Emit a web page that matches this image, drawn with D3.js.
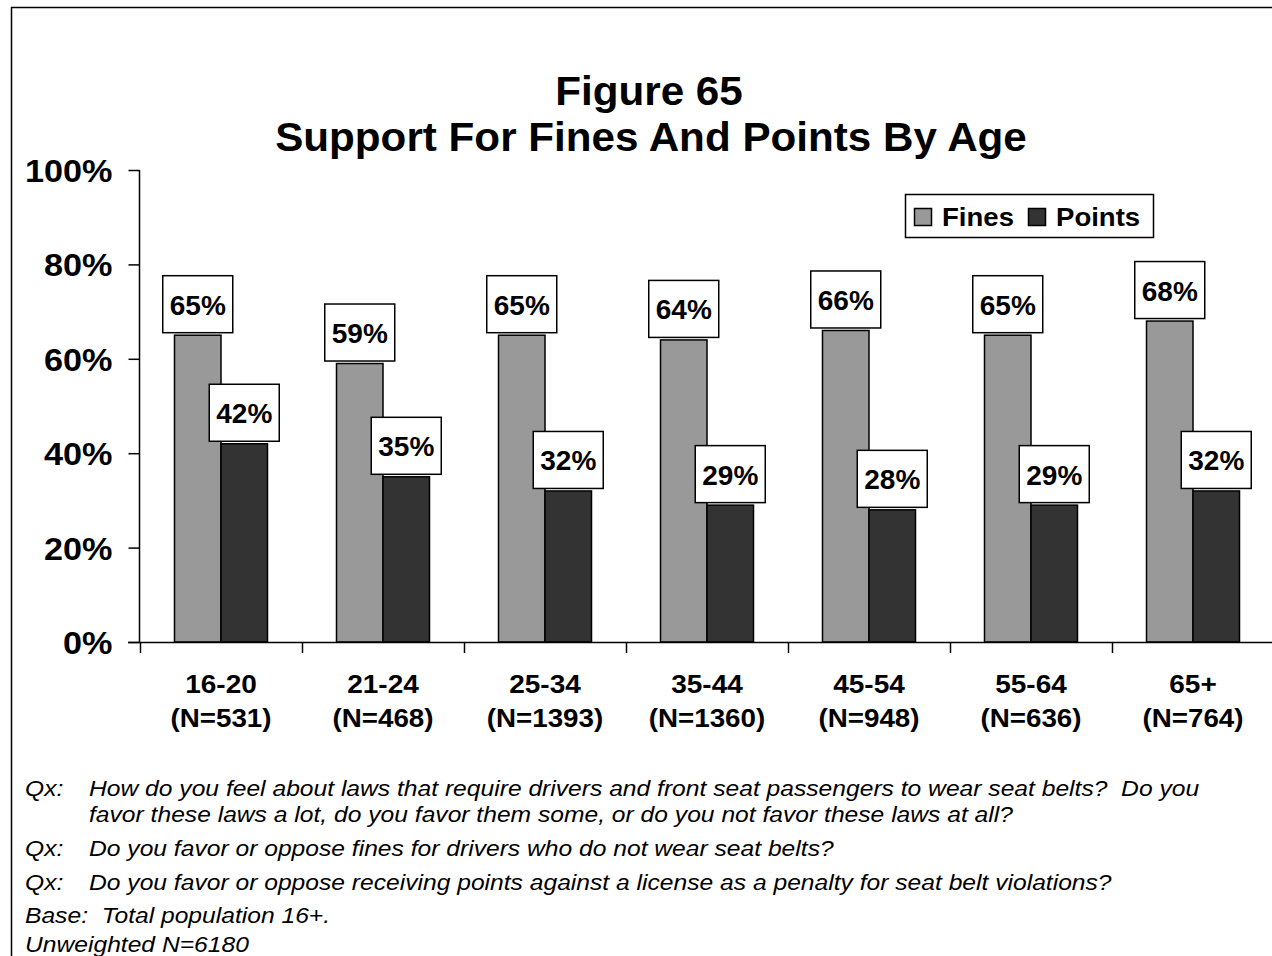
<!DOCTYPE html>
<html><head><meta charset="utf-8">
<script src="https://cdn.jsdelivr.net/npm/d3@7"></script>
<style>
html,body{margin:0;padding:0;background:#fff;}
svg{display:block;}
text{font-family:"Liberation Sans",Arial,Helvetica,sans-serif;white-space:pre;}
</style></head>
<body>
<svg id="chart" width="1272" height="956"></svg>
<script>
const categories = ["16-20","21-24","25-34","35-44","45-54","55-64","65+"];
const sampleSizes = ["(N=531)","(N=468)","(N=1393)","(N=1360)","(N=948)","(N=636)","(N=764)"];
const series = ["Fines","Points"];
const fines  = [65,59,65,64,66,65,68];
const points = [42,35,32,29,28,29,32];
const yTicks = [0,20,40,60,80,100];
const titleLines = ["Figure 65","Support For Fines And Points By Age"];
const notes = [
  ["Qx:","How do you feel about laws that require drivers and front seat passengers to wear seat belts?  Do you"],
  ["","favor these laws a lot, do you favor them some, or do you not favor these laws at all?"],
  ["Qx:","Do you favor or oppose fines for drivers who do not wear seat belts?"],
  ["Qx:","Do you favor or oppose receiving points against a license as a penalty for seat belt violations?"],
  ["Base:  Total population 16+.",""],
  ["Unweighted N=6180",""]
];
const colors = {Fines:"#999999", Points:"#333333"};

const svg = d3.select("#chart");

// helper: text with horizontal stretch
function stext(parent, x, y, str, opts) {
  const g = parent.append("g").attr("transform", `translate(${x},${y}) scale(${opts.sx||1},1)`);
  const t = g.append("text").attr("x",0).attr("y",0)
    .attr("font-size", opts.size)
    .attr("text-anchor", opts.anchor || "start")
    .attr("fill","#000")
    .text(str);
  if (opts.bold) t.attr("font-weight","bold");
  if (opts.italic) t.attr("font-style","italic");
  return t;
}

// outer border
svg.append("rect").attr("x",11.5).attr("y",7.5).attr("width",1300).attr("height",1000)
  .attr("fill","none").attr("stroke","#000").attr("stroke-width",1.5);

// title
stext(svg, 649, 105, titleLines[0], {size:40, bold:true, anchor:"middle", sx:1.055});
stext(svg, 651, 151, titleLines[1], {size:40, bold:true, anchor:"middle", sx:1.055});

const band = 162, x0 = 140;
const x = d3.scaleBand().domain(categories).range([x0, x0 + band*categories.length]).padding(0);
const groupW = 93;
const x1 = d3.scaleBand().domain(series).range([(band-groupW)/2, (band+groupW)/2]).padding(0);
const y = d3.scaleLinear().domain([0,100]).range([642,170]);

// y axis
const yAxis = d3.axisLeft(y).tickValues(yTicks).tickSize(11).tickFormat(d => d + "%");
const gy = svg.append("g").attr("transform","translate(139.5,0)").call(yAxis);
gy.select(".domain").attr("stroke","#000").attr("stroke-width",1.5).attr("d","M0,170V642");
gy.selectAll(".tick line").attr("stroke","#000").attr("stroke-width",1.5);
gy.selectAll(".tick text").remove();
gy.selectAll(".tick").each(function(d){
  stext(d3.select(this), -27, 11.5, d + "%", {size:32, bold:true, anchor:"end", sx:1.07});
});

// bars
const data = [];
categories.forEach((c,i)=>{
  data.push({cat:c, s:"Fines", v:fines[i]});
  data.push({cat:c, s:"Points", v:points[i]});
});
svg.append("g").selectAll("rect").data(data).join("rect")
  .attr("x", d => x(d.cat) + x1(d.s))
  .attr("y", d => y(d.v))
  .attr("width", x1.bandwidth())
  .attr("height", d => y(0) - y(d.v))
  .attr("fill", d => colors[d.s])
  .attr("stroke","#000").attr("stroke-width",1.5);

// x axis
svg.append("line").attr("x1",128).attr("x2",1272).attr("y1",642.5).attr("y2",642.5)
  .attr("stroke","#000").attr("stroke-width",1.5);
const bounds = categories.map(c => x(c));
svg.append("g").selectAll("line").data(bounds).join("line")
  .attr("x1",d=>d+0.5).attr("x2",d=>d+0.5).attr("y1",642).attr("y2",653)
  .attr("stroke","#000").attr("stroke-width",1.5);

// x labels
const xl = svg.append("g");
categories.forEach((c,i)=>{
  const cx = x(c) + band/2;
  stext(xl, cx, 693, c, {size:25, bold:true, anchor:"middle", sx:1.12});
  stext(xl, cx, 727, sampleSizes[i], {size:25, bold:true, anchor:"middle", sx:1.11});
});

// value labels
const lab = svg.append("g").selectAll("g").data(data).join("g")
  .attr("transform", d => `translate(${x(d.cat)+x1(d.s)+x1.bandwidth()/2},${y(d.v)-2.5})`);
lab.append("rect").attr("x",-35).attr("y",-57).attr("width",70).attr("height",57)
  .attr("fill","#fff").attr("stroke","#000").attr("stroke-width",1.5);
lab.append("text").attr("x",0).attr("y",-18).attr("text-anchor","middle")
  .attr("font-size",28).attr("font-weight","bold").text(d => d.v + "%");

// legend
const lg = svg.append("g");
lg.append("rect").attr("x",905.5).attr("y",194.5).attr("width",248).attr("height",43)
  .attr("fill","#fff").attr("stroke","#000").attr("stroke-width",1.5);
const legX = {Fines:[914,942], Points:[1028,1056]};
series.forEach(s=>{
  lg.append("rect").attr("x",legX[s][0]+0.5).attr("y",208.5).attr("width",17).attr("height",17)
    .attr("fill",colors[s]).attr("stroke","#000").attr("stroke-width",1.5);
  stext(lg, legX[s][1], 226, s, {size:26, bold:true, sx:1.06});
});

// footnotes
const noteY = [796,822,856,890,923,952];
const ng = svg.append("g");
notes.forEach((n,i)=>{
  if (n[0]) stext(ng, 25, noteY[i], n[0], {size:22, italic:true, sx:1.12});
  if (n[1]) stext(ng, 89, noteY[i], n[1], {size:22, italic:true, sx:1.12});
});
</script>
</body></html>
